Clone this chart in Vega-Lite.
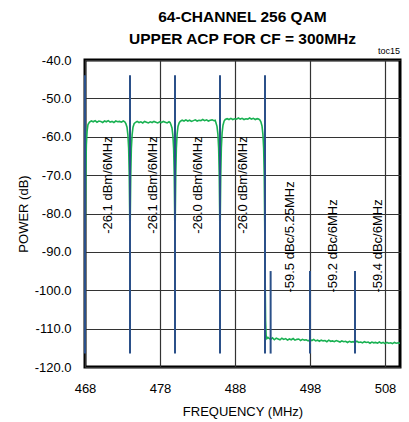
{
  "$schema": "https://vega.github.io/schema/vega-lite/v6.json",
  "width": 315,
  "height": 307,
  "autosize": "none",
  "padding": {"left": 85, "top": 60, "right": 9, "bottom": 55},
  "background": "white",
  "config": {
    "font": "Liberation Sans",
    "view": {"stroke": "black", "strokeWidth": 3},
    "axis": {"labelColor": "black", "titleColor": "black", "labelFont": "Liberation Sans", "titleFont": "Liberation Sans"}
  },
  "title": {
    "text": ["64-CHANNEL 256 QAM", "UPPER ACP FOR CF = 300MHz"],
    "fontSize": 15.5,
    "fontWeight": "bold",
    "lineHeight": 22,
    "anchor": "middle",
    "offset": 0,
    "color": "black"
  },
  "datasets": {
    "trace": [
      {"f": 468.0, "p": -90}, {"f": 468.05, "p": -80}, {"f": 468.1, "p": -70}, {"f": 468.18, "p": -62}, {"f": 468.28, "p": -58.5}, {"f": 468.4, "p": -56.8}, {"f": 468.6, "p": -56.2},
      {"f": 468.85, "p": -55.9}, {"f": 469.1, "p": -56.1}, {"f": 469.35, "p": -55.8}, {"f": 469.6, "p": -56.2}, {"f": 469.85, "p": -55.9}, {"f": 470.1, "p": -56.0}, {"f": 470.35, "p": -56.3}, {"f": 470.6, "p": -55.9}, {"f": 470.85, "p": -56.1}, {"f": 471.1, "p": -55.8}, {"f": 471.35, "p": -56.2}, {"f": 471.6, "p": -56.0}, {"f": 471.85, "p": -56.3}, {"f": 472.1, "p": -55.9}, {"f": 472.35, "p": -56.1}, {"f": 472.6, "p": -56.0}, {"f": 472.85, "p": -56.2}, {"f": 473.1, "p": -55.9}, {"f": 473.3, "p": -56.1},
      {"f": 473.45, "p": -56.6}, {"f": 473.6, "p": -57.5}, {"f": 473.72, "p": -59.5}, {"f": 473.82, "p": -63}, {"f": 473.9, "p": -70}, {"f": 473.96, "p": -80}, {"f": 474.0, "p": -88}, {"f": 474.04, "p": -80}, {"f": 474.1, "p": -70}, {"f": 474.18, "p": -63}, {"f": 474.28, "p": -59.5}, {"f": 474.4, "p": -57.5}, {"f": 474.55, "p": -56.6}, {"f": 474.7, "p": -56.3},
      {"f": 474.95, "p": -56.0}, {"f": 475.2, "p": -56.3}, {"f": 475.45, "p": -56.1}, {"f": 475.7, "p": -56.4}, {"f": 475.95, "p": -56.0}, {"f": 476.2, "p": -56.2}, {"f": 476.45, "p": -56.4}, {"f": 476.7, "p": -56.1}, {"f": 476.95, "p": -56.3}, {"f": 477.2, "p": -56.0}, {"f": 477.45, "p": -56.2}, {"f": 477.7, "p": -56.4}, {"f": 477.95, "p": -56.1}, {"f": 478.2, "p": -56.3}, {"f": 478.45, "p": -56.0}, {"f": 478.7, "p": -56.2}, {"f": 478.95, "p": -56.4}, {"f": 479.2, "p": -56.1}, {"f": 479.35, "p": -56.3},
      {"f": 479.45, "p": -56.8}, {"f": 479.6, "p": -57.7}, {"f": 479.72, "p": -59.7}, {"f": 479.82, "p": -63.2}, {"f": 479.9, "p": -70}, {"f": 479.96, "p": -80}, {"f": 480.0, "p": -88}, {"f": 480.04, "p": -80}, {"f": 480.1, "p": -70}, {"f": 480.18, "p": -63}, {"f": 480.28, "p": -59.3}, {"f": 480.4, "p": -57.3}, {"f": 480.55, "p": -56.4}, {"f": 480.7, "p": -56.0},
      {"f": 480.95, "p": -55.7}, {"f": 481.2, "p": -55.9}, {"f": 481.45, "p": -55.6}, {"f": 481.7, "p": -55.9}, {"f": 481.95, "p": -55.7}, {"f": 482.2, "p": -56.0}, {"f": 482.45, "p": -55.8}, {"f": 482.7, "p": -55.6}, {"f": 482.95, "p": -55.9}, {"f": 483.2, "p": -55.7}, {"f": 483.45, "p": -55.8}, {"f": 483.7, "p": -55.5}, {"f": 483.95, "p": -55.8}, {"f": 484.2, "p": -55.6}, {"f": 484.45, "p": -55.9}, {"f": 484.7, "p": -55.7}, {"f": 484.95, "p": -55.6}, {"f": 485.2, "p": -55.8}, {"f": 485.35, "p": -55.7},
      {"f": 485.45, "p": -56.3}, {"f": 485.6, "p": -57.3}, {"f": 485.72, "p": -59.3}, {"f": 485.82, "p": -63}, {"f": 485.9, "p": -70}, {"f": 485.96, "p": -80}, {"f": 486.0, "p": -88}, {"f": 486.04, "p": -80}, {"f": 486.1, "p": -70}, {"f": 486.18, "p": -62.8}, {"f": 486.28, "p": -59}, {"f": 486.4, "p": -57}, {"f": 486.55, "p": -55.9}, {"f": 486.7, "p": -55.5},
      {"f": 486.95, "p": -55.3}, {"f": 487.2, "p": -55.5}, {"f": 487.45, "p": -55.2}, {"f": 487.7, "p": -55.5}, {"f": 487.95, "p": -55.3}, {"f": 488.2, "p": -55.4}, {"f": 488.45, "p": -55.1}, {"f": 488.7, "p": -55.4}, {"f": 488.95, "p": -55.2}, {"f": 489.2, "p": -55.5}, {"f": 489.45, "p": -55.3}, {"f": 489.7, "p": -55.4}, {"f": 489.95, "p": -55.1}, {"f": 490.2, "p": -55.4}, {"f": 490.45, "p": -55.2}, {"f": 490.7, "p": -55.5}, {"f": 490.95, "p": -55.3}, {"f": 491.15, "p": -55.4}, {"f": 491.3, "p": -55.6},
      {"f": 491.45, "p": -56.1}, {"f": 491.6, "p": -57.2}, {"f": 491.72, "p": -59.3}, {"f": 491.82, "p": -63}, {"f": 491.9, "p": -70}, {"f": 491.96, "p": -82}, {"f": 492.02, "p": -97}, {"f": 492.08, "p": -108}, {"f": 492.15, "p": -111.8}, {"f": 492.25, "p": -112.6}, {"f": 492.4, "p": -112.3},
      {"f": 492.5, "p": -112.5}, {"f": 492.75, "p": -112.8}, {"f": 493.0, "p": -112.4}, {"f": 493.25, "p": -112.9}, {"f": 493.5, "p": -112.5}, {"f": 493.75, "p": -112.7}, {"f": 494.0, "p": -112.9}, {"f": 494.25, "p": -112.5}, {"f": 494.5, "p": -112.8}, {"f": 494.75, "p": -112.6}, {"f": 495.0, "p": -113.0}, {"f": 495.25, "p": -112.7}, {"f": 495.5, "p": -112.9}, {"f": 495.75, "p": -112.6}, {"f": 496.0, "p": -113.0}, {"f": 496.25, "p": -112.8}, {"f": 496.5, "p": -112.7}, {"f": 496.75, "p": -113.1}, {"f": 497.0, "p": -112.8}, {"f": 497.25, "p": -113.0}, {"f": 497.5, "p": -112.9}, {"f": 497.75, "p": -113.2}, {"f": 498.0, "p": -112.9}, {"f": 498.25, "p": -113.1}, {"f": 498.5, "p": -112.8}, {"f": 498.75, "p": -113.2}, {"f": 499.0, "p": -113.0}, {"f": 499.25, "p": -113.3}, {"f": 499.5, "p": -113.0}, {"f": 499.75, "p": -113.2}, {"f": 500.0, "p": -113.1}, {"f": 500.25, "p": -113.4}, {"f": 500.5, "p": -113.0}, {"f": 500.75, "p": -113.3}, {"f": 501.0, "p": -113.2}, {"f": 501.25, "p": -113.4}, {"f": 501.5, "p": -113.1}, {"f": 501.75, "p": -113.3}, {"f": 502.0, "p": -113.5}, {"f": 502.25, "p": -113.2}, {"f": 502.5, "p": -113.4}, {"f": 502.75, "p": -113.3}, {"f": 503.0, "p": -113.6}, {"f": 503.25, "p": -113.3}, {"f": 503.5, "p": -113.5}, {"f": 503.75, "p": -113.4}, {"f": 504.0, "p": -113.6}, {"f": 504.25, "p": -113.3}, {"f": 504.5, "p": -113.6}, {"f": 504.75, "p": -113.5}, {"f": 505.0, "p": -113.7}, {"f": 505.25, "p": -113.4}, {"f": 505.5, "p": -113.6}, {"f": 505.75, "p": -113.5}, {"f": 506.0, "p": -113.8}, {"f": 506.25, "p": -113.5}, {"f": 506.5, "p": -113.7}, {"f": 506.75, "p": -113.6}, {"f": 507.0, "p": -113.8}, {"f": 507.25, "p": -113.5}, {"f": 507.5, "p": -113.8}, {"f": 507.75, "p": -113.6}, {"f": 508.0, "p": -113.9}, {"f": 508.25, "p": -113.6}, {"f": 508.5, "p": -113.8}, {"f": 508.75, "p": -113.7}, {"f": 509.0, "p": -113.9}, {"f": 509.25, "p": -113.6}, {"f": 509.5, "p": -113.8}, {"f": 509.75, "p": -113.7}, {"f": 510.0, "p": -113.8}
    ],
    "markers": [
      {"f": 468.0, "top": -44, "bottom": -116.5},
      {"f": 474.0, "top": -44, "bottom": -116.5},
      {"f": 480.0, "top": -44, "bottom": -116.5},
      {"f": 486.0, "top": -44, "bottom": -116.5},
      {"f": 492.0, "top": -44, "bottom": -116.5},
      {"f": 492.75, "top": -95, "bottom": -116.5},
      {"f": 498.0, "top": -95, "bottom": -116.5},
      {"f": 504.0, "top": -95, "bottom": -116.5}
    ],
    "labels": [
      {"f": 471.0, "y": -85.3, "label": "-26.1 dBm/6MHz"},
      {"f": 477.0, "y": -85.3, "label": "-26.1 dBm/6MHz"},
      {"f": 483.0, "y": -85.3, "label": "-26.0 dBm/6MHz"},
      {"f": 489.0, "y": -85.3, "label": "-26.0 dBm/6MHz"},
      {"f": 495.375, "y": -100.6, "label": "-59.5 dBc/5.25MHz"},
      {"f": 501.0, "y": -100.6, "label": "-59.2 dBc/6MHz"},
      {"f": 507.0, "y": -100.6, "label": "-59.4 dBc/6MHz"}
    ]
  },
  "layer": [
    {
      "data": {"name": "trace"},
      "mark": {"type": "line", "color": "#19b152", "strokeWidth": 1.6, "clip": true},
      "encoding": {
        "x": {
          "field": "f", "type": "quantitative",
          "scale": {"domain": [468, 510], "nice": false, "zero": false},
          "axis": {
            "values": [468, 478, 488, 498, 508],
            "tickCount": 10,
            "grid": true, "gridColor": "#333333", "gridWidth": 1.2, "gridOpacity": 1,
            "domain": false, "ticks": false,
            "labelFlush": false, "labelOverlap": false,
            "labelFontSize": 13, "labelPadding": 15,
            "title": "FREQUENCY (MHz)", "titleFontSize": 13, "titleFontWeight": "normal", "titlePadding": 10
          }
        },
        "y": {
          "field": "p", "type": "quantitative",
          "scale": {"domain": [-120, -40], "nice": false, "zero": false},
          "axis": {
            "values": [-120, -110, -100, -90, -80, -70, -60, -50, -40],
            "tickCount": 12,
            "labelExpr": "replace(format(datum.value, '.1f'), '\u2212', '-')",
            "grid": true, "gridColor": "#333333", "gridWidth": 1.2, "gridOpacity": 1,
            "domain": false, "ticks": false,
            "labelFlush": false, "labelOverlap": false,
            "labelFontSize": 13, "labelPadding": 14,
            "title": "POWER (dB)", "titleFontSize": 13, "titleFontWeight": "normal", "titlePadding": 4
          }
        }
      }
    },
    {
      "data": {"name": "markers"},
      "mark": {"type": "rule", "color": "#2b5089", "strokeWidth": 2},
      "encoding": {
        "x": {"field": "f", "type": "quantitative"},
        "y": {"field": "top", "type": "quantitative"},
        "y2": {"field": "bottom"}
      }
    },
    {
      "data": {"name": "labels"},
      "mark": {"type": "text", "angle": 270, "align": "left", "baseline": "middle", "fontSize": 13, "color": "black", "font": "Liberation Sans"},
      "encoding": {
        "x": {"field": "f", "type": "quantitative"},
        "y": {"field": "y", "type": "quantitative"},
        "text": {"field": "label"}
      }
    },
    {
      "data": {"values": [{"t": "toc15"}]},
      "mark": {"type": "text", "align": "right", "baseline": "bottom", "fontSize": 9, "dy": -4, "color": "black"},
      "encoding": {
        "x": {"datum": 510},
        "y": {"datum": -40},
        "text": {"field": "t"}
      }
    }
  ]
}
